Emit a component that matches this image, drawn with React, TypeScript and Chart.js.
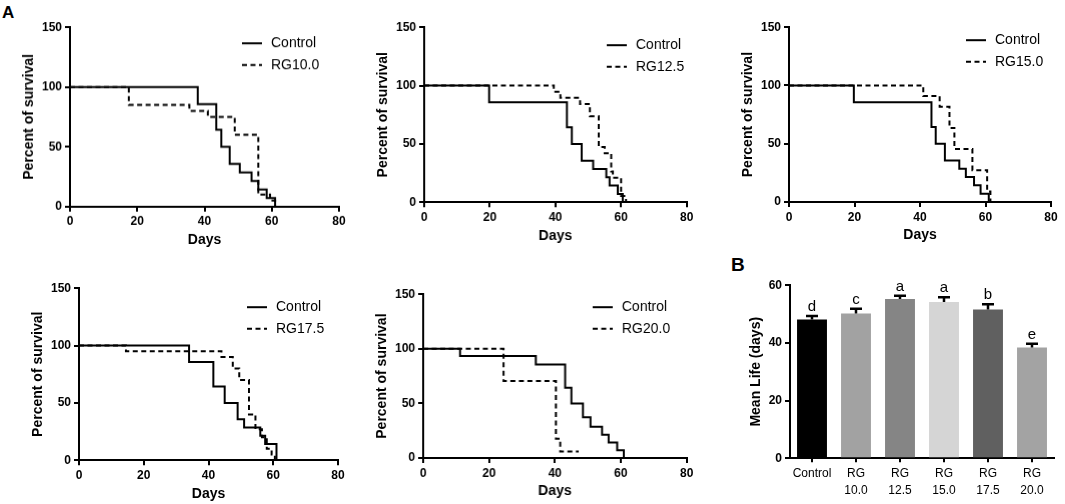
import React, { useEffect, useRef } from 'react';
import { Chart, registerables } from 'chart.js';

Chart.register(...registerables);

const FONT = '"Liberation Sans", Arial, Helvetica, sans-serif';

// Kaplan-Meier curves, [day, percent surviving]
type Curve = [number, number][];

const ctrlA: Curve = [[0, 100], [38, 85.7], [43.5, 64.3], [45, 50], [47.5, 35.7], [50.5, 28.6], [54, 21.4], [56, 14.3], [58.5, 7.1], [61, 0]];
const rg100: Curve = [[0, 100], [17.5, 85], [35.5, 80], [41, 75], [49, 60], [56, 10], [59.5, 5], [61, 0]];

const ctrlB: Curve = [[0, 100], [19.8, 85.7], [43.5, 64.3], [45, 50], [48, 35.7], [51.5, 28.6], [55.5, 21.4], [56.5, 14.3], [59, 7.1], [60.5, 0]];
const rg125: Curve = [[0, 100], [39.5, 94.7], [41.5, 89.5], [47.5, 84.2], [50.5, 73.7], [53.2, 47.4], [55, 42.1], [57, 26.3], [57.5, 21.1], [60, 5.3], [61.5, 0]];

const ctrlC: Curve = [[0, 100], [19.8, 85.7], [43.5, 64.3], [44.8, 50], [47.6, 35.7], [52, 28.6], [54, 21.4], [56.5, 14.3], [58.5, 7.1], [61, 0]];
const rg150: Curve = [[0, 100], [41, 90.9], [46, 81.8], [49, 63.6], [50.5, 45.5], [56, 27.3], [60.5, 9.1], [61.5, 0]];

const ctrlD: Curve = [[0, 100], [34, 85.7], [41.5, 64.3], [45, 50], [49, 35.7], [51, 28.6], [56, 21.4], [57.5, 14.3], [61, 0]];
const rg175: Curve = [[0, 100], [14.5, 95], [44, 90], [47.5, 80], [49.5, 70], [52.5, 40], [54.5, 27], [56.5, 20], [58, 10], [59.5, 5], [60.5, 0]];

const ctrlE: Curve = [[0, 100], [11.2, 93.3], [34.2, 85.7], [43.1, 64.3], [45, 50], [48.5, 37.3], [50.8, 28.6], [54.3, 21.4], [56.3, 14.3], [58.9, 7.1], [60.9, 0]];
const rg200: Curve = [[0, 100], [24.4, 70.6], [40.3, 17.6], [41.6, 5.9], [47.2, 5.9]];

// panel B
const barLabels = [['Control'], ['RG', '10.0'], ['RG', '12.5'], ['RG', '15.0'], ['RG', '17.5'], ['RG', '20.0']];
const lifeMean = [48.1, 50.2, 55.2, 54.2, 51.6, 38.4];
const lifeSem = [1.2, 1.6, 1.1, 1.6, 1.8, 1.3];
const sigLetters = ['d', 'c', 'a', 'a', 'b', 'e'];
const barColors = ['#000000', '#a2a2a2', '#858585', '#d5d5d5', '#606060', '#a3a3a3'];

const PAD_L = 53;
const PAD_T = 10;
const PAD_R = 14;
const PAD_B = 46;

const inLegend = {
  id: 'inLegend',
  afterDraw(chart: any, _args: any, opts: any) {
    const { ctx, chartArea } = chart;
    chart.data.datasets.forEach((ds: any, i: number) => {
      const x = chartArea.left + opts.x;
      const y = chartArea.top + opts.y + i * opts.gap;
      ctx.save();
      ctx.strokeStyle = '#000';
      ctx.lineWidth = 2;
      ctx.setLineDash(ds.borderDash || []);
      ctx.beginPath();
      ctx.moveTo(x, y);
      ctx.lineTo(x + 20, y);
      ctx.stroke();
      ctx.setLineDash([]);
      ctx.fillStyle = '#000';
      ctx.font = `14px ${FONT}`;
      ctx.textBaseline = 'middle';
      ctx.fillText(ds.label, x + 29, y);
      ctx.restore();
    });
  },
};

const errBars = {
  id: 'errBars',
  afterDatasetsDraw(chart: any) {
    const { ctx } = chart;
    const y = chart.scales.y;
    chart.getDatasetMeta(0).data.forEach((bar: any, i: number) => {
      const top = y.getPixelForValue(lifeMean[i]);
      const hi = y.getPixelForValue(lifeMean[i] + lifeSem[i]);
      ctx.save();
      ctx.strokeStyle = '#000';
      ctx.lineWidth = 2.5;
      ctx.beginPath();
      ctx.moveTo(bar.x, top);
      ctx.lineTo(bar.x, hi);
      ctx.moveTo(bar.x - 6, hi);
      ctx.lineTo(bar.x + 6, hi);
      ctx.stroke();
      ctx.fillStyle = '#000';
      ctx.font = `15px ${FONT}`;
      ctx.textAlign = 'center';
      ctx.textBaseline = 'alphabetic';
      ctx.fillText(sigLetters[i], bar.x, hi - 5);
      ctx.restore();
    });
  },
};

const axisLine = { color: '#000', width: 2 };
const tickMarks = { drawOnChartArea: false, color: '#000', lineWidth: 2, tickLength: 5 };
const boldTicks = { color: '#000', font: { family: FONT, size: 12, weight: 'bold' as const }, padding: 3 };
const boldTitle = (text: string) => ({
  display: true,
  text,
  color: '#000',
  font: { family: FONT, size: 14, weight: 'bold' as const },
  padding: { top: 4, bottom: 4 },
});

interface PanelProps {
  left: number;
  top: number;
  width: number;
  height: number;
  control: Curve;
  treated: Curve;
  label: string;
  legendX: number;
  legendY: number;
}

function SurvivalPanel(p: PanelProps) {
  const canvasRef = useRef<HTMLCanvasElement | null>(null);

  useEffect(() => {
    if (!canvasRef.current) return;
    const chart = new Chart(canvasRef.current, {
      type: 'line',
      data: {
        datasets: [
          {
            label: 'Control',
            data: p.control.map(([x, y]) => ({ x, y })),
            borderColor: '#000',
            borderWidth: 2,
            stepped: 'before',
            pointRadius: 0,
            fill: false,
          },
          {
            label: p.label,
            data: p.treated.map(([x, y]) => ({ x, y })),
            borderColor: '#000',
            borderWidth: 2,
            borderDash: [5, 3.5],
            stepped: 'before',
            pointRadius: 0,
            fill: false,
          },
        ],
      },
      options: {
        animation: false,
        responsive: true,
        maintainAspectRatio: false,
        layout: { padding: { top: PAD_T, right: PAD_R, left: 0, bottom: 0 } },
        plugins: {
          legend: { display: false },
          tooltip: { enabled: false },
          // @ts-ignore
          inLegend: { x: p.legendX, y: p.legendY, gap: 21.5 },
        },
        scales: {
          x: {
            type: 'linear',
            min: 0,
            max: 80,
            ticks: { ...boldTicks, stepSize: 20 },
            grid: tickMarks,
            border: axisLine,
            title: boldTitle('Days'),
            afterFit: (s: any) => { s.height = PAD_B; },
          },
          y: {
            min: 0,
            max: 150,
            ticks: { ...boldTicks, stepSize: 50 },
            grid: tickMarks,
            border: axisLine,
            title: boldTitle('Percent of survival'),
            afterFit: (s: any) => { s.width = PAD_L; },
          },
        },
      },
      plugins: [inLegend],
    });
    return () => chart.destroy();
  }, []);

  return (
    <div
      style={{
        position: 'absolute',
        left: p.left - PAD_L,
        top: p.top - PAD_T,
        width: p.width + PAD_L + PAD_R,
        height: p.height + PAD_T + PAD_B,
      }}
    >
      <canvas ref={canvasRef}></canvas>
    </div>
  );
}

const B_PAD_L = 46;
const B_PAD_B = 45;

function MeanLifePanel() {
  const canvasRef = useRef<HTMLCanvasElement | null>(null);

  useEffect(() => {
    if (!canvasRef.current) return;
    const chart = new Chart(canvasRef.current, {
      type: 'bar',
      data: {
        labels: barLabels,
        datasets: [
          {
            data: lifeMean,
            backgroundColor: barColors,
            borderWidth: 0,
            barPercentage: 0.68,
            categoryPercentage: 1,
          },
        ],
      },
      options: {
        animation: false,
        responsive: true,
        maintainAspectRatio: false,
        layout: { padding: { top: PAD_T, right: 10, left: 0, bottom: 0 } },
        plugins: { legend: { display: false }, tooltip: { enabled: false } },
        scales: {
          x: {
            ticks: {
              color: '#000',
              font: { family: FONT, size: 12, lineHeight: 1.4 },
              padding: 3,
              autoSkip: false,
              maxRotation: 0,
              minRotation: 0,
            },
            grid: { ...tickMarks, offset: false, tickLength: 4 },
            border: axisLine,
            afterFit: (s: any) => { s.height = B_PAD_B; },
          },
          y: {
            min: 0,
            max: 60,
            ticks: { ...boldTicks, stepSize: 20 },
            grid: tickMarks,
            border: axisLine,
            title: boldTitle('Mean Life (days)'),
            afterFit: (s: any) => { s.width = B_PAD_L; },
          },
        },
      },
      plugins: [errBars],
    });
    return () => chart.destroy();
  }, []);

  return (
    <div
      style={{
        position: 'absolute',
        left: 790 - B_PAD_L,
        top: 285 - PAD_T,
        width: 264 + B_PAD_L + 10,
        height: 173.3 + PAD_T + B_PAD_B,
      }}
    >
      <canvas ref={canvasRef}></canvas>
    </div>
  );
}

const letterStyle: React.CSSProperties = {
  position: 'absolute',
  fontFamily: FONT,
  fontWeight: 'bold',
  lineHeight: 1,
  color: '#000',
};

export default function App() {
  return (
    <div style={{ position: 'absolute', left: 0, top: 0, width: 1065, height: 504, background: '#fff', overflow: 'hidden' }}>
      <div style={{ ...letterStyle, left: 2, top: 4, fontSize: 17 }}>A</div>
      <div style={{ ...letterStyle, left: 731, top: 255, fontSize: 19 }}>B</div>
      <SurvivalPanel left={70} top={27} width={269} height={178.7} control={ctrlA} treated={rg100} label="RG10.0" legendX={172} legendY={16} />
      <SurvivalPanel left={424.3} top={26.7} width={261.7} height={175.3} control={ctrlB} treated={rg125} label="RG12.5" legendX={182} legendY={18} />
      <SurvivalPanel left={789} top={27.3} width={262} height={175} control={ctrlC} treated={rg150} label="RG15.0" legendX={177} legendY={13} />
      <SurvivalPanel left={79.3} top={287.7} width={259} height={172.3} control={ctrlD} treated={rg175} label="RG17.5" legendX={168} legendY={19} />
      <SurvivalPanel left={423.3} top={294.3} width={262.7} height={164} control={ctrlE} treated={rg200} label="RG20.0" legendX={169} legendY={13} />
      <MeanLifePanel />
    </div>
  );
}
